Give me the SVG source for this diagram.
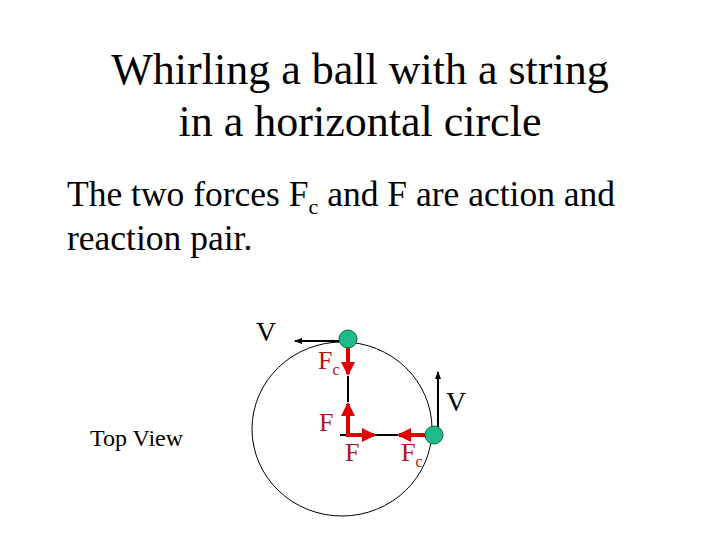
<svg xmlns="http://www.w3.org/2000/svg" width="720" height="540" viewBox="0 0 720 540">
<style>
text{font-family:"Liberation Serif",serif}
.t{font-size:44px}.b{font-size:35.5px}
.r{fill:#b0141e;font-size:26px}
.k{fill:#000;font-size:28px}
.ra{stroke:#e00000;stroke-width:4;fill:none}
.ka{stroke:#000;stroke-width:2;fill:none}
.ball{fill:#1fb98a;stroke:#0a6a4a;stroke-width:1}
</style>
<defs>
<marker id="mr" markerWidth="3.5" markerHeight="3.5" refX="3" refY="1.75" orient="auto"><path d="M0,0L3.5,1.75L0,3.5z" fill="#e00000"/></marker>
<marker id="mk" markerWidth="8" markerHeight="6" refX="7" refY="3" orient="auto" markerUnits="userSpaceOnUse"><path d="M0,0L8,3L0,6z" fill="#000"/></marker>
</defs>
<rect width="720" height="540" fill="#fff"/>
<g id="title"><text class="t" x="360" y="84" text-anchor="middle">Whirling a ball with a string</text><text class="t" x="360" y="136" text-anchor="middle">in a horizontal circle</text></g>
<g id="body"><text class="b" x="67" y="206">The two forces F<tspan dy="8" font-size="22">c</tspan><tspan dy="-8"> and F are action and</tspan></text><text class="b" x="67" y="250">reaction pair.</text></g>
<g id="topview"><text x="90" y="446" font-size="24">Top View</text></g>
<g id="circle"><ellipse cx="342" cy="429" rx="90" ry="87" fill="none" stroke="#000" stroke-width="1"/></g>
<g id="connectors">
<line class="ka" x1="348" y1="376" x2="348" y2="402" stroke-width="1"/>
<line class="ka" x1="340" y1="435" x2="398" y2="435" stroke-width="1"/>
<line class="ka" x1="348" y1="341" x2="295" y2="341" marker-end="url(#mk)"/>
<line class="ka" x1="438" y1="435" x2="438" y2="372" marker-end="url(#mk)"/>
<line class="ra" x1="348" y1="341" x2="348" y2="374" marker-end="url(#mr)"/>
<line class="ra" x1="348" y1="435" x2="348" y2="404" marker-end="url(#mr)"/>
<line class="ra" x1="346" y1="435" x2="374" y2="435" marker-end="url(#mr)"/>
<line class="ra" x1="433" y1="435" x2="399" y2="435" marker-end="url(#mr)"/>
</g>
<g id="ball1"><circle class="ball" cx="348" cy="339" r="9"/></g>
<g id="ball2"><circle class="ball" cx="434" cy="435" r="9"/></g>
<g id="labels">
<text class="k" x="256" y="341">V</text>
<text class="k" x="446" y="411">V</text>
<text class="r" x="318" y="369">F<tspan font-size="16" dy="6">c</tspan></text>
<text class="r" x="319" y="431">F</text>
<text class="r" x="345" y="461">F</text>
<text class="r" x="401" y="461">F<tspan font-size="16" dy="6">c</tspan></text>
</g>
</svg>
